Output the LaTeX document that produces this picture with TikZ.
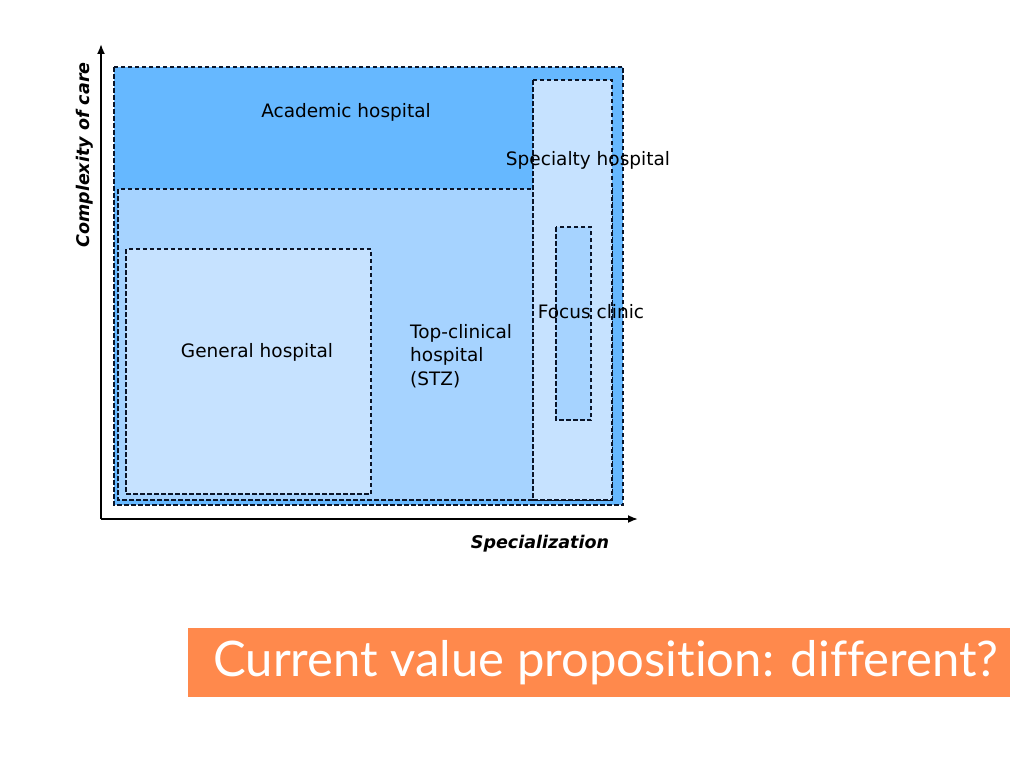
\documentclass[tikz,border=0pt]{standalone}
\usepackage{fontspec}
\setmainfont{DejaVu Sans}
\newfontfamily\bannerfont[Ligatures=NoCommon]{Lato}
\usetikzlibrary{arrows.meta}
\definecolor{deepblue}{RGB}{102,184,255}
\definecolor{midblue}{RGB}{166,211,255}
\definecolor{paleblue}{RGB}{198,226,255}
\definecolor{bannerorange}{RGB}{255,137,76}
\definecolor{darkline}{RGB}{10,20,40}
\begin{document}
\begin{tikzpicture}[x=1pt,y=-1pt,
  zone/.style={draw=darkline,dashed,line width=1.1pt,dash pattern=on 4.5pt off 2.5pt},
  lbl/.style={font=\fontsize{18.5}{22}\selectfont,text=black,inner sep=0pt},
  axislbl/.style={font=\fontsize{17.5}{20}\selectfont\bfseries\itshape,inner sep=0pt},
  axis/.style={line width=1.8pt,-{Latex[length=10pt,width=8pt]}}]
\useasboundingbox (0,0) rectangle (1024,768);
% zones
\path[zone,fill=deepblue] (114,67) rectangle (623,505);
\path[zone,fill=midblue] (118,189) rectangle (612,500);
\path[zone,fill=paleblue] (533,80) rectangle (612,500);
\path[zone,fill=midblue] (556,227) rectangle (591,420);
\path[zone,fill=paleblue] (126,249) rectangle (371,494);
% axes
\coordinate (o) at (101,519);
\coordinate (ytip) at (101,44);
\coordinate (xtip) at (638,519);
\draw[axis] (o) -- (ytip);
\draw[axis] (o) -- (xtip);
\node[axislbl,rotate=90] (ylab) at (85,155) {Complexity of care};
\node[axislbl] (xlab) at (540,544) {Specialization};
% labels
\node[lbl] (acad) at (346,112) {Academic hospital};
\node[lbl] (spec) at (588,160) {Specialty hospital};
\node[lbl] (gen) at (257,352) {General hospital};
\node[lbl,anchor=north west,align=left,font=\fontsize{18.5}{23.5}\selectfont] (top) at (410,324) {Top-clinical\\hospital\\(STZ)};
\node[lbl] (focus) at (591,312) {Focus clinic};
% banner
\fill[bannerorange] (188,628) rectangle (1010,697);
\node[text=white,font=\bannerfont\fontsize{49}{54}\selectfont,inner sep=0pt] (banner) at (606,663) {Current value proposition: different?};
\end{tikzpicture}
\end{document}
